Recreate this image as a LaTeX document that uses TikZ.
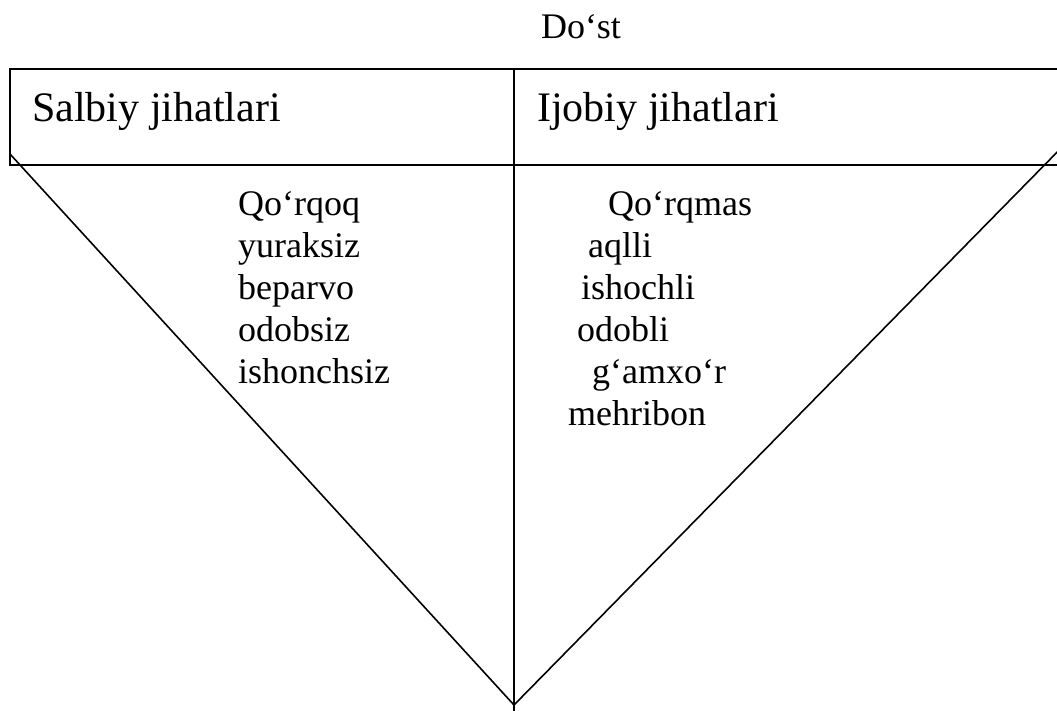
\documentclass[tikz,border=0pt]{standalone}
\usepackage{fontspec}
\setmainfont{Liberation Serif}
\begin{document}
\begin{tikzpicture}[x=1pt,y=-1pt,
  edge/.style={line width=1.6pt,black},
  head/.style={anchor=base west,inner sep=0pt,font=\fontsize{42}{48}\selectfont},
  item/.style={anchor=base west,inner sep=0pt,font=\fontsize{36}{42}\selectfont},
  title/.style={anchor=base,inner sep=0pt,font=\fontsize{36}{42}\selectfont}]
\useasboundingbox (0,0) rectangle (1057,710);
\clip (0,0) rectangle (1057,710);
% coordinates
\coordinate (tl) at (10,69);
\coordinate (br) at (1070,165);
\coordinate (dtop) at (514,69);
\coordinate (dbot) at (514,714);
\coordinate (v) at (514,705);
\coordinate (lstart) at (10,154);
\coordinate (rstart) at (1070,139);
% header box
\draw[edge] (tl) rectangle (br);
\draw[edge] (dtop) -- (dbot);
\draw[edge] (lstart) -- (v) -- (rstart);
% texts
\node[title] (dost) at (581,38) {Do‘st};
\node[head] (salbiy) at (32,121) {Salbiy jihatlari};
\node[head] (ijobiy) at (537,121) {Ijobiy jihatlari};
\node[item] (l1) at (238,215) {Qo‘rqoq};
\node[item] (l2) at (238,257) {yuraksiz};
\node[item] (l3) at (238,299) {beparvo};
\node[item] (l4) at (238,341) {odobsiz};
\node[item] (l5) at (238,383) {ishonchsiz};
\node[item] (r1) at (608,215) {Qo‘rqmas};
\node[item] (r2) at (588,257) {aqlli};
\node[item] (r3) at (581,299) {ishochli};
\node[item] (r4) at (577,341) {odobli};
\node[item] (r5) at (592,383) {g‘amxo‘r};
\node[item] (r6) at (568,425) {mehribon};
\end{tikzpicture}
\end{document}
